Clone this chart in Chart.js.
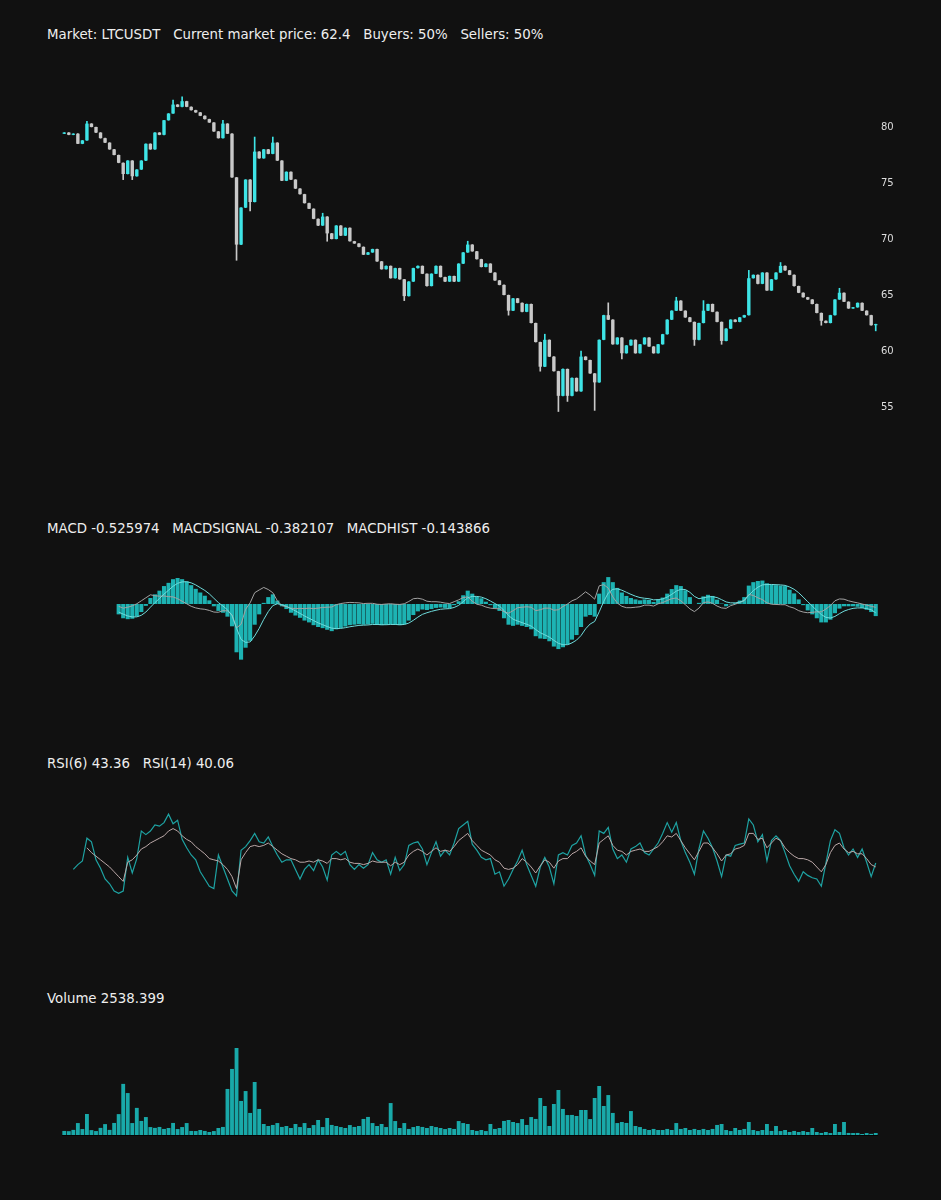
<!DOCTYPE html>
<html>
<head>
<meta charset="utf-8">
<script src="https://cdn.jsdelivr.net/npm/chart.js@4.4.1/dist/chart.umd.min.js"></script>
<style>
  html, body { margin:0; padding:0; background:#111111; }
  body { width:941px; height:1200px; position:relative; overflow:hidden; font-family:'DejaVu Sans', sans-serif; }
  .ttl { position:absolute; left:47px; color:#eeeeee; font-size:13.33px; line-height:15px; white-space:pre; }
  canvas { position:absolute; left:0; }
</style>
</head>
<body>
<div class="ttl" id="t1" style="top:27px"></div>
<div class="ttl" id="t2" style="top:521px"></div>
<div class="ttl" id="t3" style="top:756px"></div>
<div class="ttl" id="t4" style="top:991px"></div>
<canvas id="cPrice" width="941" height="340" style="top:90px"></canvas>
<canvas id="cMacd" width="941" height="110" style="top:565px"></canvas>
<canvas id="cRsi" width="941" height="120" style="top:795px"></canvas>
<canvas id="cVol" width="941" height="91" style="top:1045px"></canvas>
<script>
// ---------------- DATA ----------------
const market = "LTCUSDT";
const currentPrice = 62.4;
const buyersPct = 50;
const sellersPct = 50;
const firstOpen = 79.4;

const closes = [
  79.5, 79.3, 79.4, 78.5, 78.8, 80.3, 80.0, 79.5, 79.0, 78.6,
  78.0, 77.5, 76.8, 75.8, 77.0, 75.6, 76.2, 77.0, 78.5, 78.0,
  79.5, 79.3, 80.6, 81.2, 82.0, 81.8, 82.3, 81.8, 81.5, 81.3,
  81.0, 80.7, 80.4, 79.6, 79.0, 80.3, 79.4, 75.5, 69.5, 72.8,
  75.3, 73.3, 77.8, 77.2, 78.0, 77.6, 78.6, 77.0, 75.2, 76.0,
  75.3, 74.5, 74.0, 73.2, 72.7, 71.8, 71.2, 72.0, 70.5, 70.0,
  71.2, 70.3, 71.0, 69.8, 69.6, 69.3, 68.6, 68.8, 69.1, 68.0,
  67.3, 67.6, 66.5, 67.4, 66.4, 64.9, 66.2, 67.4, 67.6, 66.9,
  65.8, 66.9, 67.6, 66.6, 66.2, 66.7, 66.2, 67.8, 68.8, 69.5,
  68.9, 68.2, 67.5, 67.8, 67.0, 66.3, 65.9, 65.0, 63.6, 64.7,
  64.3, 63.5, 64.2, 62.5, 60.8, 58.6, 61.0, 59.5, 58.2, 56.0,
  58.4, 56.0, 57.6, 56.4, 59.5, 59.2, 58.0, 57.2, 61.0, 63.2,
  62.8, 60.6, 61.2, 59.8, 60.5, 61.0, 59.8, 60.6, 61.2, 60.4,
  59.8, 60.6, 61.5, 62.8, 63.6, 64.5, 63.6, 63.0, 62.6, 61.0,
  62.5, 63.6, 64.2, 63.5, 62.6, 60.9, 62.0, 62.8, 62.6, 63.0,
  63.2, 66.5, 66.8, 66.0, 67.0, 65.4, 66.4, 67.0, 67.6, 67.2,
  66.8, 65.8, 65.2, 64.8, 64.6, 64.2, 63.4, 62.7, 62.5, 63.2,
  64.6, 65.2, 64.4, 63.8, 63.9, 64.3, 63.6, 63.2, 62.3, 62.4
];

// visible wick extremes [candle index, price]
const highWicks = [[5,80.5],[24,82.4],[26,82.7],[35,80.6],[42,79.1],[46,79.1],[57,72.3],[89,69.8],[106,61.5],[114,60.0],[120,64.3],[135,64.8],[141,64.5],[151,67.2],[158,67.9],[171,65.6]];
const lowWicks = [[13,75.3],[15,75.3],[38,68.1],[41,72.5],[58,69.8],[75,64.5],[98,63.2],[105,58.2],[109,54.6],[111,55.5],[117,54.7],[123,59.3],[139,60.5],[145,60.6],[167,62.3],[179,61.8]];

const priceTicks = [55, 60, 65, 70, 75, 80];

const volumes = [
  4300, 4100, 5200, 11000, 5900, 18700, 5000, 4200, 6900, 10100,
  5200, 11100, 18600, 44300, 36500, 11000, 23900, 12800, 16100, 7600,
  6900, 7700, 6000, 6800, 11100, 5900, 7600, 11000, 4300, 4200,
  5100, 4300, 3400, 4200, 6800, 7700, 40000, 57000, 74800, 29800,
  38200, 19600, 45900, 23000, 10200, 8500, 9400, 11000, 7700, 8500,
  6800, 10200, 7600, 11000, 6800, 9300, 13600, 7600, 15300, 9400,
  8500, 7600, 6800, 9300, 7700, 8500, 14500, 16200, 11000, 8500,
  10200, 7600, 28000, 12700, 6800, 11000, 6000, 7600, 8500, 7700,
  6800, 8500, 7600, 6800, 5900, 6800, 6000, 12700, 11000, 10200,
  5100, 4300, 5100, 4200, 10200, 6000, 6800, 12800, 13600, 11900,
  11000, 14400, 9400, 16100, 14500, 32300, 25500, 8500, 27200, 39100,
  23000, 17800, 17900, 17000, 22100, 22100, 14400, 32300, 42500, 25500,
  34800, 19600, 11000, 11900, 11100, 21200, 8500, 7600, 6000, 5100,
  6000, 5100, 5100, 6000, 5100, 11000, 6000, 6800, 5100, 6000,
  5100, 6000, 5100, 6000, 9400, 10200, 5100, 4200, 6800, 5100,
  6000, 11900, 5100, 4200, 5100, 10200, 4300, 8500, 4200, 5100,
  3400, 4300, 3400, 4200, 3400, 6800, 3400, 2600, 3400, 2500,
  10200, 3400, 11900, 2600, 2500, 2600, 1700, 2500, 1800, 2538.399
];

const macd = [
  null, null, null, null, null, null, null, null, null, null, null, null,
  -0.45, -0.62, -0.66, -0.64, -0.55, -0.35, -0.08, 0.26,
  0.42, 0.58, 0.78, 0.92, 1.08, 1.13, 1.08, 0.98, 0.82, 0.66,
  0.50, 0.36, 0.16, -0.10, -0.30, -0.38, -0.55, -0.97, -2.10, -2.42,
  -1.90, -1.60, -0.90, -0.45, 0.05, 0.30, 0.42, 0.15, -0.10, -0.22,
  -0.38, -0.50, -0.60, -0.72, -0.80, -0.92, -1.00, -1.05, -1.12, -1.18,
  -1.10, -1.04, -0.98, -0.92, -0.90, -0.88, -0.90, -0.88, -0.86, -0.90,
  -0.92, -0.90, -0.88, -0.90, -0.92, -0.88, -0.72, -0.48, -0.32, -0.24,
  -0.26, -0.22, -0.17, -0.15, -0.17, -0.18, -0.05, 0.12, 0.38, 0.58,
  0.45, 0.32, 0.25, 0.10, -0.05, -0.18, -0.30, -0.62, -0.90, -0.95,
  -0.90, -0.95, -1.00, -1.10, -1.40, -1.50, -1.52, -1.62, -1.85, -1.96,
  -1.88, -1.77, -1.55, -1.35, -1.00, -0.55, -0.48, -0.55, 0.45, 0.95,
  1.17, 0.95, 0.70, 0.50, 0.35, 0.26, 0.20, 0.16, 0.20, 0.18,
  0.09, 0.20, 0.28, 0.45, 0.65, 0.82, 0.78, 0.60, 0.30, 0.00,
  0.05, 0.33, 0.40, 0.35, 0.19, 0.02, -0.10, -0.02, 0.04, 0.15,
  0.30, 0.80, 0.95, 1.00, 1.02, 0.90, 0.84, 0.82, 0.80, 0.78,
  0.62, 0.46, 0.20, -0.05, -0.28, -0.45, -0.62, -0.80, -0.80, -0.68,
  -0.40, -0.20, -0.10, -0.10, -0.10, -0.12, -0.17, -0.25, -0.35, -0.525974
];

const macdSignal = [
  null, null, null, null, null, null, null, null, null, null, null, null,
  -0.35, -0.44, -0.52, -0.56, -0.56, -0.49, -0.35, -0.14,
  0.06, 0.24, 0.43, 0.60, 0.77, 0.90, 0.96, 0.97, 0.92, 0.83,
  0.71, 0.59, 0.44, 0.25, 0.06, -0.09, -0.25, -0.50, -1.06, -1.54,
  -1.67, -1.65, -1.39, -1.06, -0.67, -0.33, -0.07, 0.01, -0.03, -0.10,
  -0.20, -0.30, -0.41, -0.52, -0.62, -0.72, -0.82, -0.90, -0.98, -1.05,
  -1.07, -1.06, -1.03, -0.99, -0.96, -0.93, -0.92, -0.91, -0.89, -0.89,
  -0.90, -0.90, -0.89, -0.89, -0.90, -0.89, -0.83, -0.71, -0.57, -0.45,
  -0.38, -0.32, -0.27, -0.23, -0.21, -0.20, -0.15, -0.06, 0.10, 0.27,
  0.33, 0.33, 0.30, 0.23, 0.13, 0.02, -0.09, -0.28, -0.50, -0.66,
  -0.74, -0.81, -0.88, -0.96, -1.11, -1.25, -1.34, -1.44, -1.58, -1.71,
  -1.77, -1.77, -1.69, -1.57, -1.37, -1.08, -0.87, -0.76, -0.34, 0.11,
  0.48, 0.64, 0.66, 0.60, 0.51, 0.42, 0.34, 0.28, 0.25, 0.23,
  0.18, 0.19, 0.22, 0.30, 0.42, 0.56, 0.64, 0.63, 0.51, 0.33,
  0.23, 0.27, 0.31, 0.32, 0.28, 0.19, 0.09, 0.05, 0.05, 0.08,
  0.16, 0.38, 0.58, 0.73, 0.83, 0.85, 0.85, 0.84, 0.83, 0.81,
  0.74, 0.64, 0.49, 0.30, 0.10, -0.09, -0.28, -0.46, -0.58, -0.61,
  -0.54, -0.42, -0.31, -0.24, -0.19, -0.17, -0.17, -0.20, -0.25, -0.382107
];

const macdHist = [
  null, null, null, null, null, null, null, null, null, null, null, null,
  -0.10, -0.18, -0.14, -0.08, 0.01, 0.14, 0.27, 0.40,
  0.36, 0.34, 0.35, 0.32, 0.31, 0.23, 0.12, 0.01, -0.10, -0.17,
  -0.21, -0.23, -0.28, -0.35, -0.36, -0.29, -0.30, -0.47, -1.04, -0.88,
  -0.23, 0.05, 0.49, 0.61, 0.72, 0.63, 0.49, 0.14, -0.07, -0.12,
  -0.18, -0.20, -0.19, -0.20, -0.18, -0.20, -0.18, -0.15, -0.14, -0.13,
  -0.03, 0.02, 0.05, 0.07, 0.06, 0.05, 0.02, 0.03, 0.03, -0.01,
  -0.02, 0.00, 0.01, -0.01, -0.02, 0.01, 0.11, 0.23, 0.25, 0.21,
  0.12, 0.10, 0.10, 0.08, 0.04, 0.02, 0.10, 0.18, 0.28, 0.31,
  0.12, -0.01, -0.05, -0.13, -0.18, -0.20, -0.21, -0.34, -0.40, -0.29,
  -0.16, -0.14, -0.12, -0.14, -0.29, -0.25, -0.18, -0.18, -0.27, -0.25,
  -0.11, 0.00, 0.14, 0.22, 0.37, 0.53, 0.39, 0.21, 0.79, 0.84,
  0.69, 0.31, 0.04, -0.10, -0.16, -0.16, -0.14, -0.12, -0.05, -0.05,
  -0.09, 0.01, 0.06, 0.15, 0.23, 0.26, 0.14, -0.03, -0.21, -0.33,
  -0.18, 0.06, 0.09, 0.03, -0.09, -0.17, -0.19, -0.07, -0.01, 0.07,
  0.14, 0.42, 0.37, 0.27, 0.19, 0.05, -0.01, -0.02, -0.03, -0.03,
  -0.12, -0.18, -0.29, -0.35, -0.38, -0.36, -0.34, -0.34, -0.22, -0.07,
  0.14, 0.22, 0.21, 0.14, 0.09, 0.05, 0.00, -0.05, -0.10, -0.143866
];

const rsi6 = [
  null, null, 38, 42, 45, 64, 61, 46, 39, 30,
  26, 20, 18, 20, 48, 35, 47, 70, 67, 70,
  75, 74, 77, 84, 76, 79, 63, 56, 50, 46,
  36, 30, 24, 22, 50, 40, 30, 20, 16, 54,
  57, 62, 68, 61, 60, 65, 57, 50, 44, 46,
  46, 38, 30, 38, 42, 37, 46, 40, 29, 50,
  53, 50, 53, 42, 38, 42, 39, 42, 52, 46,
  44, 46, 34, 48, 37, 42, 58, 60, 61, 55,
  42, 52, 61, 49, 54, 50, 60, 72, 75, 78,
  59, 54, 48, 46, 47, 34, 36, 24, 30, 38,
  45, 54, 42, 33, 24, 40, 48, 40, 26, 50,
  52, 50, 58, 60, 66, 50, 42, 33, 70, 68,
  73, 55, 47, 50, 44, 55, 57, 60, 52, 50,
  55, 60, 68, 77, 69, 77, 62, 52, 44, 34,
  55, 70, 64, 56, 45, 32, 50, 49, 58, 59,
  60, 80, 75, 61, 67, 45, 62, 66, 62, 52,
  41, 34, 28, 36, 33, 31, 30, 24, 43, 62,
  71, 68, 56, 50, 55, 48, 55, 44, 32, 43.36
];

const rsi14 = [
  null, null, null, null, null, 56, 52, 49, 46, 43,
  40, 36, 32, 28, 44, 46, 50, 55, 57, 60,
  62, 64, 66, 70, 72, 70, 66, 63, 61, 57,
  54, 51, 47, 46, 45, 42, 38, 32, 22, 46,
  52, 57, 58, 57, 58, 60, 57, 54, 51, 49,
  47, 46, 44, 44, 45, 44, 46, 45, 43, 47,
  47, 46, 47, 44, 43, 43, 42, 43, 45, 44,
  44, 44, 41, 44, 42, 44, 50, 53, 55, 53,
  50, 53, 56, 53, 54, 53, 57, 62, 65, 68,
  62, 58, 54, 52, 50, 46, 44, 39, 38, 39,
  42, 47, 44, 40, 35, 41, 46, 44, 39, 45,
  47, 47, 51, 53, 56, 49, 45, 42, 60, 63,
  66, 58, 54, 53, 50, 53, 54, 55, 53, 53,
  55, 57, 61, 66, 65, 68, 62, 56, 51, 46,
  53, 60, 60, 56, 51, 45, 50, 51, 55, 56,
  58, 68, 68, 63, 64, 56, 60, 64, 62, 56,
  52, 49, 47, 47, 46, 44, 40, 36, 42, 52,
  58, 60, 55, 52, 53, 51, 51, 47, 42, 40.06
];

// ---------------- TITLES ----------------
document.getElementById('t1').textContent =
  'Market: ' + market + '   Current market price: ' + currentPrice + '   Buyers: ' + buyersPct + '%   Sellers: ' + sellersPct + '%';
document.getElementById('t2').textContent =
  'MACD ' + macd[macd.length-1].toFixed(6) + '   MACDSIGNAL ' + macdSignal[macdSignal.length-1].toFixed(6) + '   MACDHIST ' + macdHist[macdHist.length-1].toFixed(6);
document.getElementById('t3').textContent =
  'RSI(6) ' + rsi6[rsi6.length-1].toFixed(2) + '   RSI(14) ' + rsi14[rsi14.length-1].toFixed(2);
document.getElementById('t4').textContent =
  'Volume ' + volumes[volumes.length-1].toFixed(3);

// ---------------- BUILD ----------------
const labels = closes.map((_, i) => String(i));
const opens = closes.map((c, i) => i === 0 ? firstOpen : closes[i-1]);
const hiMap = Object.fromEntries(highWicks);
const loMap = Object.fromEntries(lowWicks);
const bodies = closes.map((c, i) => [opens[i], c]);
const wicks = closes.map((c, i) => [
  loMap[i] !== undefined ? loMap[i] : Math.min(opens[i], c),
  hiMap[i] !== undefined ? hiMap[i] : Math.max(opens[i], c)
]);
const UP = '#3ee4e6', DOWN = '#c9c9c9';
const candleColors = closes.map((c, i) => c >= opens[i] ? UP : DOWN);

Chart.defaults.font.family = "'DejaVu Sans', sans-serif";
const baseOpts = {
  responsive: false,
  animation: false,
  events: [],
  plugins: { legend: { display: false }, tooltip: { enabled: false } }
};

// Price (candles)
new Chart(document.getElementById('cPrice'), {
  type: 'bar',
  data: {
    labels,
    datasets: [
      { data: bodies, backgroundColor: candleColors, grouped: false, barPercentage: 0.75, categoryPercentage: 1, borderWidth: 0, minBarLength: 1 },
      { data: wicks, backgroundColor: candleColors, grouped: false, barThickness: 1, borderWidth: 0 }
    ]
  },
  options: Object.assign({}, baseOpts, {
    layout: { padding: { left: 62, right: 0, top: 0, bottom: 0 } },
    scales: {
      x: { display: false },
      y: {
        position: 'right', min: 52.95, max: 83.3,
        grid: { display: false, drawTicks: false }, border: { display: false },
        ticks: { color: '#dddddd', font: { size: 10 }, padding: 3 },
        afterFit(s) { s.width = 63; s.paddingTop = 0; s.paddingBottom = 0; },
        afterBuildTicks(s) { s.ticks = priceTicks.map(v => ({ value: v })); }
      }
    }
  })
});

// MACD
new Chart(document.getElementById('cMacd'), {
  type: 'bar',
  data: {
    labels,
    datasets: [
      { type: 'line', data: macdSignal, borderColor: '#6fdcdc', borderWidth: 1, pointRadius: 0, tension: 0 },
      { type: 'line', data: macdHist, borderColor: '#a3a3a3', borderWidth: 1, pointRadius: 0, tension: 0 },
      { data: macd, backgroundColor: '#1db3b3', borderWidth: 0, barPercentage: 0.9, categoryPercentage: 1 }
    ]
  },
  options: Object.assign({}, baseOpts, {
    layout: { padding: { left: 62, right: 63, top: 0, bottom: 0 } },
    scales: { x: { display: false }, y: { display: false, min: -3.087, max: 1.696 } }
  })
});

// RSI
new Chart(document.getElementById('cRsi'), {
  type: 'line',
  data: {
    labels,
    datasets: [
      { data: rsi14, borderColor: '#bba8a8', borderWidth: 1, pointRadius: 0, tension: 0 },
      { data: rsi6, borderColor: '#1ea3a3', borderWidth: 1.2, pointRadius: 0, tension: 0 }
    ]
  },
  options: Object.assign({}, baseOpts, {
    layout: { padding: { left: 62, right: 63, top: 0, bottom: 0 } },
    scales: { x: { display: false, offset: true }, y: { display: false, min: 0, max: 100 } }
  })
});

// Volume
const baseLine = {
  id: 'baseLine',
  afterDatasetsDraw(chart) {
    const { ctx, chartArea } = chart;
    const y0 = chart.scales.y.getPixelForValue(0);
    ctx.save();
    ctx.fillStyle = '#050505';
    ctx.fillRect(chartArea.left, y0 - 1, chartArea.right - chartArea.left, 2);
    ctx.restore();
  }
};
new Chart(document.getElementById('cVol'), {
  type: 'bar',
  data: {
    labels,
    datasets: [
      { data: volumes, backgroundColor: '#19a9a9', borderWidth: 0, barPercentage: 0.85, categoryPercentage: 1 }
    ]
  },
  options: Object.assign({}, baseOpts, {
    layout: { padding: { left: 62, right: 63, top: 0, bottom: 0 } },
    scales: { x: { display: false }, y: { display: false, min: 0, max: 77350 } }
  }),
  plugins: [baseLine]
});
</script>
</body>
</html>
